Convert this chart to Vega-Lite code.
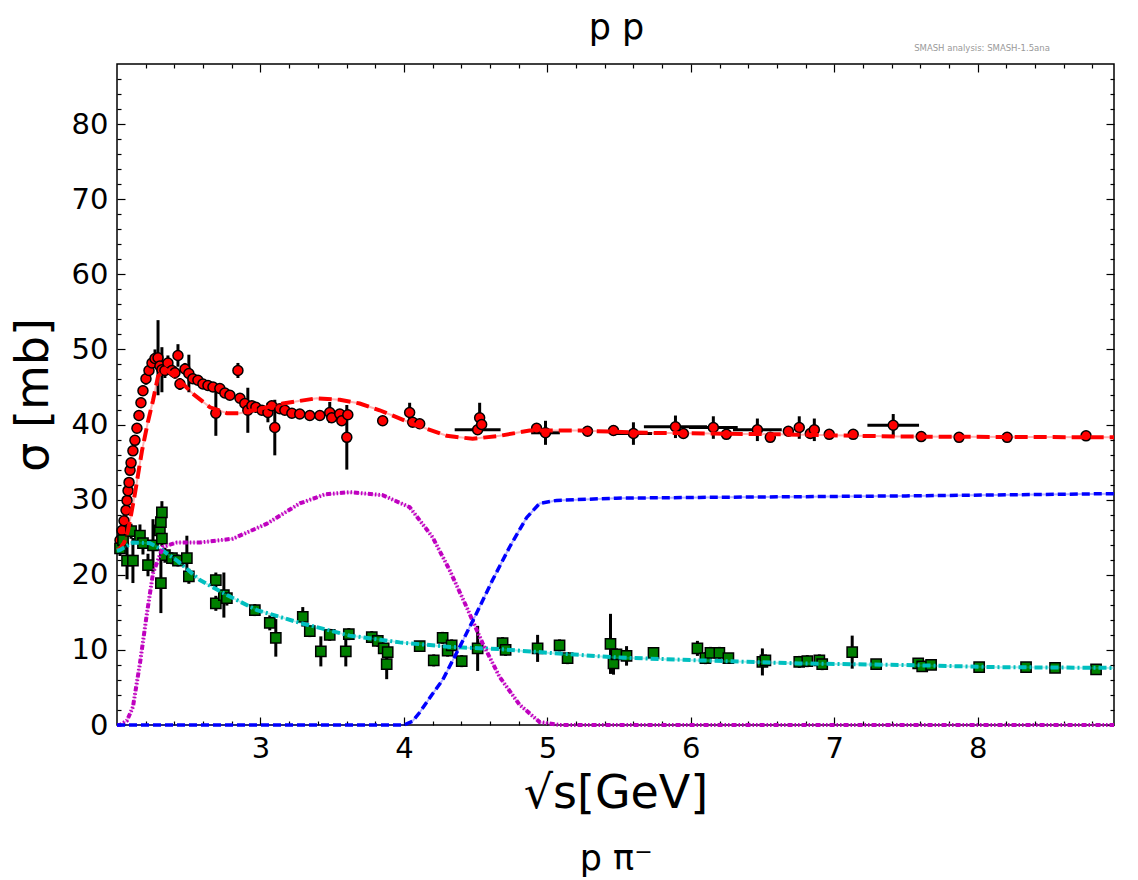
{
  "$schema": "https://vega.github.io/schema/vega-lite/v6.json",
  "width": 997,
  "height": 661,
  "autosize": {"type": "none"},
  "padding": {"left": 117, "top": 64, "right": 24, "bottom": 155},
  "background": "white",
  "config": {"view": {"stroke": "black", "strokeWidth": 1.5}, "font": "DejaVu Sans", "axis": {"domain": false, "grid": false, "tickColor": "black", "tickWidth": 1.2, "labelColor": "black", "titleColor": "black"}},
  "resolve": {"axis": {"x": "independent", "y": "independent"}},
  "datasets": {
    "red": [
      {"x": 2.021, "y": 24.6, "ey": 0.6, "ex": 0}, {"x": 2.035, "y": 25.9, "ey": 0.6, "ex": 0}, {"x": 2.049, "y": 27.2, "ey": 0.6, "ex": 0},
      {"x": 2.063, "y": 28.6, "ey": 0.6, "ex": 0}, {"x": 2.07, "y": 29.9, "ey": 0.6, "ex": 0}, {"x": 2.077, "y": 31.2, "ey": 0.6, "ex": 0},
      {"x": 2.084, "y": 32.3, "ey": 0.6, "ex": 0}, {"x": 2.091, "y": 33.9, "ey": 0.6, "ex": 0}, {"x": 2.098, "y": 34.9, "ey": 0.6, "ex": 0},
      {"x": 2.111, "y": 36.5, "ey": 0.6, "ex": 0}, {"x": 2.125, "y": 37.9, "ey": 0.6, "ex": 0}, {"x": 2.139, "y": 39.5, "ey": 0.6, "ex": 0},
      {"x": 2.153, "y": 41.2, "ey": 0.6, "ex": 0}, {"x": 2.167, "y": 42.9, "ey": 0.7, "ex": 0}, {"x": 2.181, "y": 44.5, "ey": 0.7, "ex": 0},
      {"x": 2.202, "y": 46.1, "ey": 0.8, "ex": 0}, {"x": 2.223, "y": 47.2, "ey": 0.8, "ex": 0}, {"x": 2.244, "y": 48.2, "ey": 1.0, "ex": 0},
      {"x": 2.265, "y": 48.8, "ey": 1.2, "ex": 0}, {"x": 2.286, "y": 48.9, "ey": 5.0, "ex": 0}, {"x": 2.299, "y": 47.8, "ey": 1.0, "ex": 0},
      {"x": 2.313, "y": 47.3, "ey": 3.0, "ex": 0}, {"x": 2.334, "y": 47.2, "ey": 1.0, "ex": 0}, {"x": 2.355, "y": 48.2, "ey": 1.0, "ex": 0},
      {"x": 2.383, "y": 47.2, "ey": 0.8, "ex": 0}, {"x": 2.404, "y": 46.9, "ey": 0.8, "ex": 0}, {"x": 2.425, "y": 49.2, "ey": 1.5, "ex": 0},
      {"x": 2.439, "y": 45.4, "ey": 0.8, "ex": 0}, {"x": 2.474, "y": 47.4, "ey": 0.8, "ex": 0}, {"x": 2.501, "y": 46.8, "ey": 2.5, "ex": 0},
      {"x": 2.529, "y": 46.1, "ey": 0.6, "ex": 0}, {"x": 2.564, "y": 45.9, "ey": 0.6, "ex": 0}, {"x": 2.599, "y": 45.4, "ey": 0.6, "ex": 0},
      {"x": 2.634, "y": 45.2, "ey": 0.6, "ex": 0}, {"x": 2.669, "y": 45.0, "ey": 0.6, "ex": 0}, {"x": 2.689, "y": 41.5, "ey": 3.0, "ex": 0},
      {"x": 2.717, "y": 44.8, "ey": 0.6, "ex": 0}, {"x": 2.752, "y": 44.2, "ey": 0.6, "ex": 0}, {"x": 2.787, "y": 43.9, "ey": 0.6, "ex": 0},
      {"x": 2.843, "y": 47.2, "ey": 1.0, "ex": 0}, {"x": 2.857, "y": 43.5, "ey": 0.6, "ex": 0}, {"x": 2.891, "y": 42.8, "ey": 0.6, "ex": 0},
      {"x": 2.912, "y": 41.9, "ey": 3.0, "ex": 0}, {"x": 2.94, "y": 42.5, "ey": 0.6, "ex": 0}, {"x": 2.968, "y": 42.3, "ey": 0.6, "ex": 0},
      {"x": 3.01, "y": 41.9, "ey": 0.6, "ex": 0}, {"x": 3.052, "y": 41.6, "ey": 1.3, "ex": 0}, {"x": 3.079, "y": 42.5, "ey": 0.6, "ex": 0},
      {"x": 3.1, "y": 39.6, "ey": 3.7, "ex": 0}, {"x": 3.135, "y": 42.1, "ey": 0.6, "ex": 0}, {"x": 3.17, "y": 41.9, "ey": 0.6, "ex": 0},
      {"x": 3.219, "y": 41.5, "ey": 0.6, "ex": 0}, {"x": 3.274, "y": 41.4, "ey": 0.6, "ex": 0}, {"x": 3.344, "y": 41.2, "ey": 0.6, "ex": 0},
      {"x": 3.414, "y": 41.2, "ey": 0.6, "ex": 0}, {"x": 3.483, "y": 41.6, "ey": 1.4, "ex": 0}, {"x": 3.497, "y": 40.9, "ey": 0.6, "ex": 0},
      {"x": 3.553, "y": 41.4, "ey": 0.6, "ex": 0}, {"x": 3.567, "y": 40.5, "ey": 0.6, "ex": 0}, {"x": 3.602, "y": 38.3, "ey": 4.3, "ex": 0},
      {"x": 3.609, "y": 41.3, "ey": 0.6, "ex": 0}, {"x": 3.852, "y": 40.5, "ey": 0.5, "ex": 0}, {"x": 4.04, "y": 41.6, "ey": 1.3, "ex": 0},
      {"x": 4.061, "y": 40.3, "ey": 0.6, "ex": 0}, {"x": 4.11, "y": 40.1, "ey": 0.6, "ex": 0}, {"x": 4.514, "y": 39.3, "ey": 0.6, "ex": 0.16},
      {"x": 4.528, "y": 40.9, "ey": 2.0, "ex": 0}, {"x": 4.542, "y": 40.0, "ey": 0.6, "ex": 0}, {"x": 4.925, "y": 39.5, "ey": 0.6, "ex": 0},
      {"x": 4.987, "y": 38.9, "ey": 1.6, "ex": 0.1}, {"x": 5.28, "y": 39.1, "ey": 0.5, "ex": 0}, {"x": 5.461, "y": 39.2, "ey": 0.5, "ex": 0},
      {"x": 5.6, "y": 38.8, "ey": 1.5, "ex": 0.13}, {"x": 5.893, "y": 39.7, "ey": 1.5, "ex": 0.22}, {"x": 5.948, "y": 38.8, "ey": 0.6, "ex": 0},
      {"x": 6.157, "y": 39.6, "ey": 1.5, "ex": 0.17}, {"x": 6.248, "y": 38.7, "ey": 0.6, "ex": 0}, {"x": 6.464, "y": 39.3, "ey": 1.5, "ex": 0.17},
      {"x": 6.554, "y": 38.3, "ey": 0.6, "ex": 0}, {"x": 6.68, "y": 39.1, "ey": 0.6, "ex": 0}, {"x": 6.756, "y": 39.6, "ey": 1.5, "ex": 0},
      {"x": 6.833, "y": 38.8, "ey": 0.6, "ex": 0}, {"x": 6.861, "y": 39.3, "ey": 1.5, "ex": 0}, {"x": 6.965, "y": 38.7, "ey": 0.5, "ex": 0},
      {"x": 7.132, "y": 38.7, "ey": 0.5, "ex": 0}, {"x": 7.411, "y": 39.9, "ey": 1.5, "ex": 0.18}, {"x": 7.606, "y": 38.4, "ey": 0.5, "ex": 0},
      {"x": 7.87, "y": 38.3, "ey": 0.5, "ex": 0}, {"x": 8.205, "y": 38.3, "ey": 0.5, "ex": 0}, {"x": 8.755, "y": 38.5, "ey": 0.5, "ex": 0}
    ],
    "green": [
      {"x": 2.021, "y": 23.5, "ey": 1.0}, {"x": 2.042, "y": 24.6, "ey": 1.0}, {"x": 2.07, "y": 21.9, "ey": 2.5},
      {"x": 2.098, "y": 25.8, "ey": 1.0}, {"x": 2.111, "y": 21.9, "ey": 3.0}, {"x": 2.16, "y": 25.2, "ey": 1.5},
      {"x": 2.181, "y": 24.2, "ey": 1.5}, {"x": 2.216, "y": 21.3, "ey": 1.5}, {"x": 2.251, "y": 23.9, "ey": 3.5},
      {"x": 2.299, "y": 25.9, "ey": 1.0}, {"x": 2.306, "y": 27.0, "ey": 1.0}, {"x": 2.313, "y": 28.3, "ey": 1.5},
      {"x": 2.313, "y": 24.8, "ey": 1.0}, {"x": 2.306, "y": 18.9, "ey": 4.0}, {"x": 2.334, "y": 22.6, "ey": 1.0},
      {"x": 2.383, "y": 22.2, "ey": 0.8}, {"x": 2.425, "y": 21.9, "ey": 0.8}, {"x": 2.487, "y": 22.2, "ey": 3.0},
      {"x": 2.501, "y": 19.8, "ey": 1.0}, {"x": 2.689, "y": 19.3, "ey": 1.0}, {"x": 2.689, "y": 16.2, "ey": 1.0},
      {"x": 2.745, "y": 17.3, "ey": 3.0}, {"x": 2.766, "y": 16.9, "ey": 1.0}, {"x": 2.961, "y": 15.3, "ey": 0.8},
      {"x": 3.065, "y": 13.6, "ey": 1.0}, {"x": 3.107, "y": 11.6, "ey": 2.5}, {"x": 3.295, "y": 14.4, "ey": 1.3},
      {"x": 3.344, "y": 12.5, "ey": 0.8}, {"x": 3.421, "y": 9.8, "ey": 2.0}, {"x": 3.483, "y": 12.0, "ey": 0.8},
      {"x": 3.595, "y": 9.8, "ey": 2.0}, {"x": 3.616, "y": 12.1, "ey": 0.8}, {"x": 3.776, "y": 11.7, "ey": 0.8},
      {"x": 3.818, "y": 11.2, "ey": 0.8}, {"x": 3.859, "y": 10.2, "ey": 0.8}, {"x": 3.88, "y": 8.1, "ey": 2.0},
      {"x": 3.887, "y": 9.7, "ey": 0.8}, {"x": 4.11, "y": 10.5, "ey": 0.5}, {"x": 4.208, "y": 8.6, "ey": 0.8},
      {"x": 4.27, "y": 11.6, "ey": 0.8}, {"x": 4.305, "y": 9.9, "ey": 0.8}, {"x": 4.333, "y": 10.6, "ey": 0.8},
      {"x": 4.403, "y": 8.5, "ey": 0.8}, {"x": 4.514, "y": 10.2, "ey": 3.0}, {"x": 4.688, "y": 10.9, "ey": 0.8},
      {"x": 4.709, "y": 10.0, "ey": 0.8}, {"x": 4.932, "y": 10.2, "ey": 1.8}, {"x": 5.085, "y": 10.6, "ey": 0.8},
      {"x": 5.141, "y": 8.9, "ey": 0.8}, {"x": 5.44, "y": 10.8, "ey": 4.0}, {"x": 5.461, "y": 8.2, "ey": 1.5},
      {"x": 5.482, "y": 9.4, "ey": 0.8}, {"x": 5.552, "y": 9.2, "ey": 1.3}, {"x": 5.74, "y": 9.6, "ey": 0.6},
      {"x": 6.046, "y": 10.2, "ey": 1.0}, {"x": 6.102, "y": 8.9, "ey": 0.8}, {"x": 6.137, "y": 9.6, "ey": 0.8},
      {"x": 6.199, "y": 9.6, "ey": 0.8}, {"x": 6.262, "y": 8.9, "ey": 0.6}, {"x": 6.499, "y": 8.4, "ey": 1.8},
      {"x": 6.52, "y": 8.6, "ey": 0.8}, {"x": 6.756, "y": 8.4, "ey": 0.8}, {"x": 6.812, "y": 8.5, "ey": 0.8},
      {"x": 6.896, "y": 8.6, "ey": 0.8}, {"x": 6.916, "y": 8.1, "ey": 0.8}, {"x": 7.125, "y": 9.7, "ey": 2.2},
      {"x": 7.292, "y": 8.1, "ey": 0.5}, {"x": 7.585, "y": 8.2, "ey": 0.5}, {"x": 7.613, "y": 7.8, "ey": 0.5},
      {"x": 7.675, "y": 8.0, "ey": 0.5}, {"x": 8.01, "y": 7.7, "ey": 0.5}, {"x": 8.337, "y": 7.7, "ey": 0.5},
      {"x": 8.539, "y": 7.6, "ey": 0.5}, {"x": 8.825, "y": 7.4, "ey": 0.5}
    ],
    "models": [
      {"m": "tot", "x": 2.0, "y": 23.3}, {"m": "tot", "x": 2.021, "y": 23.5}, {"m": "tot", "x": 2.05, "y": 24.3},
      {"m": "tot", "x": 2.077, "y": 25.9}, {"m": "tot", "x": 2.1, "y": 28.2}, {"m": "tot", "x": 2.125, "y": 30.8},
      {"m": "tot", "x": 2.174, "y": 36.5}, {"m": "tot", "x": 2.215, "y": 40.3}, {"m": "tot", "x": 2.251, "y": 43.2},
      {"m": "tot", "x": 2.286, "y": 46.4}, {"m": "tot", "x": 2.334, "y": 47.4}, {"m": "tot", "x": 2.418, "y": 46.2},
      {"m": "tot", "x": 2.529, "y": 44.1}, {"m": "tot", "x": 2.648, "y": 42.3}, {"m": "tot", "x": 2.766, "y": 41.5},
      {"m": "tot", "x": 2.857, "y": 41.5}, {"m": "tot", "x": 2.996, "y": 42.1}, {"m": "tot", "x": 3.156, "y": 42.8},
      {"m": "tot", "x": 3.393, "y": 43.5}, {"m": "tot", "x": 3.553, "y": 43.3}, {"m": "tot", "x": 3.692, "y": 42.8},
      {"m": "tot", "x": 3.831, "y": 41.9}, {"m": "tot", "x": 4.061, "y": 40.1}, {"m": "tot", "x": 4.298, "y": 38.5},
      {"m": "tot", "x": 4.479, "y": 38.1}, {"m": "tot", "x": 4.667, "y": 38.5}, {"m": "tot", "x": 4.876, "y": 39.2},
      {"m": "tot", "x": 5.224, "y": 39.2}, {"m": "tot", "x": 5.691, "y": 38.9}, {"m": "tot", "x": 6.15, "y": 38.8},
      {"m": "tot", "x": 6.617, "y": 38.7}, {"m": "tot", "x": 7.453, "y": 38.4}, {"m": "tot", "x": 8.95, "y": 38.3},
      {"m": "el", "x": 2.0, "y": 23.2}, {"m": "el", "x": 2.021, "y": 23.3}, {"m": "el", "x": 2.111, "y": 24.3},
      {"m": "el", "x": 2.23, "y": 24.2}, {"m": "el", "x": 2.299, "y": 23.5}, {"m": "el", "x": 2.418, "y": 21.9},
      {"m": "el", "x": 2.578, "y": 19.3}, {"m": "el", "x": 2.766, "y": 17.3}, {"m": "el", "x": 2.975, "y": 15.3},
      {"m": "el", "x": 3.274, "y": 13.6}, {"m": "el", "x": 3.623, "y": 11.9}, {"m": "el", "x": 3.971, "y": 11.0},
      {"m": "el", "x": 4.319, "y": 10.4}, {"m": "el", "x": 4.667, "y": 10.1}, {"m": "el", "x": 5.015, "y": 9.6},
      {"m": "el", "x": 5.481, "y": 9.0}, {"m": "el", "x": 6.06, "y": 8.6}, {"m": "el", "x": 6.757, "y": 8.2},
      {"m": "el", "x": 7.453, "y": 8.0}, {"m": "el", "x": 8.15, "y": 7.7}, {"m": "el", "x": 8.95, "y": 7.6},
      {"m": "res", "x": 2.0, "y": 0}, {"m": "res", "x": 2.021, "y": 0}, {"m": "res", "x": 2.07, "y": 0.6},
      {"m": "res", "x": 2.111, "y": 2.4}, {"m": "res", "x": 2.16, "y": 8.2}, {"m": "res", "x": 2.209, "y": 14.9},
      {"m": "res", "x": 2.251, "y": 20.2}, {"m": "res", "x": 2.32, "y": 23.7}, {"m": "res", "x": 2.418, "y": 24.3},
      {"m": "res", "x": 2.578, "y": 24.3}, {"m": "res", "x": 2.808, "y": 24.8}, {"m": "res", "x": 3.045, "y": 26.8},
      {"m": "res", "x": 3.274, "y": 29.5}, {"m": "res", "x": 3.45, "y": 30.7}, {"m": "res", "x": 3.623, "y": 31.0},
      {"m": "res", "x": 3.852, "y": 30.6}, {"m": "res", "x": 4.04, "y": 29.0}, {"m": "res", "x": 4.2, "y": 25.0},
      {"m": "res", "x": 4.319, "y": 20.6}, {"m": "res", "x": 4.437, "y": 15.7}, {"m": "res", "x": 4.548, "y": 10.9},
      {"m": "res", "x": 4.667, "y": 6.4}, {"m": "res", "x": 4.806, "y": 2.7}, {"m": "res", "x": 4.946, "y": 0.4},
      {"m": "res", "x": 5.085, "y": 0}, {"m": "res", "x": 8.95, "y": 0},
      {"m": "str", "x": 2.0, "y": 0}, {"m": "str", "x": 4.0, "y": 0}, {"m": "str", "x": 4.06, "y": 0.5},
      {"m": "str", "x": 4.111, "y": 1.7}, {"m": "str", "x": 4.194, "y": 4.0}, {"m": "str", "x": 4.27, "y": 6.0},
      {"m": "str", "x": 4.389, "y": 10.4}, {"m": "str", "x": 4.507, "y": 14.9}, {"m": "str", "x": 4.618, "y": 19.3},
      {"m": "str", "x": 4.737, "y": 23.7}, {"m": "str", "x": 4.855, "y": 27.6}, {"m": "str", "x": 4.946, "y": 29.5},
      {"m": "str", "x": 5.064, "y": 29.9}, {"m": "str", "x": 5.482, "y": 30.2}, {"m": "str", "x": 6.06, "y": 30.3},
      {"m": "str", "x": 7.5, "y": 30.5}, {"m": "str", "x": 8.95, "y": 30.8}
    ],
    "notes": [
      {"k": "w", "x": 8.03, "y": 90.1, "t": "SMASH analysis: SMASH-1.5ana"},
      {"k": "big", "x": 5.482, "y": 91.3, "t": "p p"},
      {"k": "big", "x": 5.48, "y": -19.3, "t": "p π⁻"},
      {"k": "w", "x": 8.03, "y": -21.4, "t": "SMASH analysis: SMASH-1.5ana"}
    ]
  },
  "layer": [
    {
      "data": {"name": "red"},
      "transform": [{"filter": "datum.ey > 0"}],
      "mark": {"type": "errorbar", "ticks": false, "thickness": 3, "color": "black"},
      "encoding": {
        "x": {"field": "x", "type": "quantitative", "scale": {"domain": [2.0, 8.95], "nice": false, "zero": false}, "axis": null},
        "y": {"field": "y", "type": "quantitative", "scale": {"domain": [0, 88], "nice": false}, "axis": null},
        "yError": {"field": "ey"}
      }
    },
    {
      "data": {"name": "red"},
      "transform": [{"filter": "datum.ex > 0"}],
      "mark": {"type": "errorbar", "ticks": false, "thickness": 3, "color": "black"},
      "encoding": {
        "y": {"field": "y", "type": "quantitative", "scale": {"domain": [0, 88], "nice": false}, "axis": null},
        "x": {"field": "x", "type": "quantitative", "scale": {"domain": [2.0, 8.95], "nice": false, "zero": false}, "axis": null},
        "xError": {"field": "ex"}
      }
    },
    {
      "data": {"name": "green"},
      "mark": {"type": "errorbar", "ticks": false, "thickness": 3, "color": "black"},
      "encoding": {
        "x": {"field": "x", "type": "quantitative", "scale": {"domain": [2.0, 8.95], "nice": false, "zero": false}, "axis": null},
        "y": {"field": "y", "type": "quantitative", "scale": {"domain": [0, 88], "nice": false}, "axis": null},
        "yError": {"field": "ey"}
      }
    },
    {
      "data": {"name": "red"},
      "mark": {"type": "point", "shape": "circle", "filled": true, "fill": "#ff0000", "stroke": "black", "strokeWidth": 1.5, "size": 100, "opacity": 1},
      "encoding": {
        "x": {"field": "x", "type": "quantitative", "scale": {"domain": [2.0, 8.95], "nice": false, "zero": false}, "axis": null},
        "y": {"field": "y", "type": "quantitative", "scale": {"domain": [0, 88], "nice": false}, "axis": null}
      }
    },
    {
      "data": {"name": "green"},
      "mark": {"type": "point", "shape": "square", "filled": true, "fill": "#008000", "stroke": "black", "strokeWidth": 1.5, "size": 105, "opacity": 1},
      "encoding": {
        "x": {"field": "x", "type": "quantitative", "scale": {"domain": [2.0, 8.95], "nice": false, "zero": false}, "axis": null},
        "y": {"field": "y", "type": "quantitative", "scale": {"domain": [0, 88], "nice": false}, "axis": null}
      }
    },
    {
      "data": {"name": "models"},
      "mark": {"type": "line", "strokeWidth": 2, "opacity": 0.3},
      "encoding": {
        "x": {"field": "x", "type": "quantitative", "scale": {"domain": [2.0, 8.95], "nice": false, "zero": false},
          "axis": {"orient": "bottom", "values": [3, 4, 5, 6, 7, 8], "format": "d", "ticks": false,
            "labelFontSize": 29, "labelFont": "DejaVu Sans", "labelPadding": 9, "labelFlush": false,
            "title": "√s[GeV]", "titleFontSize": 46, "titleFont": "DejaVu Sans", "titleFontWeight": "normal", "titlePadding": 8}},
        "y": {"field": "y", "type": "quantitative", "scale": {"domain": [0, 88], "nice": false},
          "axis": {"orient": "left", "values": [0, 10, 20, 30, 40, 50, 60, 70, 80], "format": "d", "ticks": false,
            "labelFontSize": 29, "labelFont": "DejaVu Sans", "labelPadding": 9, "labelFlush": false,
            "title": "σ [mb]", "titleFontSize": 46, "titleFont": "DejaVu Sans", "titleFontWeight": "normal", "titlePadding": 14}},
        "color": {"field": "m", "type": "nominal", "scale": {"domain": ["tot", "el", "res", "str"], "range": ["#ff0000", "#00bfbf", "#bf00bf", "#0000ff"]}, "legend": null}
      }
    },
    {
      "data": {"name": "models"},
      "transform": [{"filter": "datum.m === 'tot'"}],
      "mark": {"type": "line", "color": "#ff0000", "strokeWidth": 4, "strokeDash": [13, 6]},
      "encoding": {
        "x": {"field": "x", "type": "quantitative", "scale": {"domain": [2.0, 8.95], "nice": false, "zero": false},
          "axis": {"orient": "bottom", "values": [3, 4, 5, 6, 7, 8], "labels": false, "title": null, "tickSize": -8}},
        "y": {"field": "y", "type": "quantitative", "scale": {"domain": [0, 88], "nice": false},
          "axis": {"orient": "left", "values": [0, 10, 20, 30, 40, 50, 60, 70, 80], "labels": false, "title": null, "tickSize": -8}}
      }
    },
    {
      "data": {"name": "models"},
      "transform": [{"filter": "datum.m === 'el'"}],
      "mark": {"type": "line", "color": "#00bfbf", "strokeWidth": 4, "strokeDash": [8, 3, 2, 3]},
      "encoding": {
        "x": {"field": "x", "type": "quantitative", "scale": {"domain": [2.0, 8.95], "nice": false, "zero": false},
          "axis": {"orient": "bottom", "values": [2.2, 2.4, 2.6, 2.8, 3.2, 3.4, 3.6, 3.8, 4.2, 4.4, 4.6, 4.8, 5.2, 5.4, 5.6, 5.8, 6.2, 6.4, 6.6, 6.8, 7.2, 7.4, 7.6, 7.8, 8.2, 8.4, 8.6, 8.8], "labels": false, "title": null, "tickSize": -4}},
        "y": {"field": "y", "type": "quantitative", "scale": {"domain": [0, 88], "nice": false},
          "axis": {"orient": "left", "values": [2, 4, 6, 8, 12, 14, 16, 18, 22, 24, 26, 28, 32, 34, 36, 38, 42, 44, 46, 48, 52, 54, 56, 58, 62, 64, 66, 68, 72, 74, 76, 78, 82, 84, 86], "labels": false, "title": null, "tickSize": -4}}
      }
    },
    {
      "data": {"name": "models"},
      "transform": [{"filter": "datum.m === 'res'"}],
      "mark": {"type": "line", "color": "#bf00bf", "strokeWidth": 4, "strokeDash": [5, 2, 1.5, 2, 1.5, 2]},
      "encoding": {
        "x": {"field": "x", "type": "quantitative", "scale": {"domain": [2.0, 8.95], "nice": false, "zero": false},
          "axis": {"orient": "top", "values": [3, 4, 5, 6, 7, 8], "labels": false, "title": null, "tickSize": -8}},
        "y": {"field": "y", "type": "quantitative", "scale": {"domain": [0, 88], "nice": false},
          "axis": {"orient": "right", "values": [0, 10, 20, 30, 40, 50, 60, 70, 80], "labels": false, "title": null, "tickSize": -8}}
      }
    },
    {
      "data": {"name": "models"},
      "transform": [{"filter": "datum.m === 'str'"}],
      "mark": {"type": "line", "color": "#0000ff", "strokeWidth": 3.5, "strokeDash": [8, 4]},
      "encoding": {
        "x": {"field": "x", "type": "quantitative", "scale": {"domain": [2.0, 8.95], "nice": false, "zero": false},
          "axis": {"orient": "top", "values": [2.2, 2.4, 2.6, 2.8, 3.2, 3.4, 3.6, 3.8, 4.2, 4.4, 4.6, 4.8, 5.2, 5.4, 5.6, 5.8, 6.2, 6.4, 6.6, 6.8, 7.2, 7.4, 7.6, 7.8, 8.2, 8.4, 8.6, 8.8], "labels": false, "title": null, "tickSize": -4}},
        "y": {"field": "y", "type": "quantitative", "scale": {"domain": [0, 88], "nice": false},
          "axis": {"orient": "right", "values": [2, 4, 6, 8, 12, 14, 16, 18, 22, 24, 26, 28, 32, 34, 36, 38, 42, 44, 46, 48, 52, 54, 56, 58, 62, 64, 66, 68, 72, 74, 76, 78, 82, 84, 86], "labels": false, "title": null, "tickSize": -4}}
      }
    },
    {
      "data": {"name": "notes"},
      "transform": [{"filter": "datum.k === 'w'"}],
      "mark": {"type": "text", "fontSize": 8.5, "font": "DejaVu Sans", "color": "#999999", "align": "center", "baseline": "middle"},
      "encoding": {
        "x": {"field": "x", "type": "quantitative", "scale": {"domain": [2.0, 8.95], "nice": false, "zero": false}, "axis": null},
        "y": {"field": "y", "type": "quantitative", "scale": {"domain": [0, 88], "nice": false}, "axis": null},
        "text": {"field": "t"}
      }
    },
    {
      "data": {"name": "notes"},
      "transform": [{"filter": "datum.k === 'big'"}],
      "mark": {"type": "text", "fontSize": 35, "font": "DejaVu Sans", "color": "black", "align": "center", "baseline": "alphabetic"},
      "encoding": {
        "x": {"field": "x", "type": "quantitative", "scale": {"domain": [2.0, 8.95], "nice": false, "zero": false}, "axis": null},
        "y": {"field": "y", "type": "quantitative", "scale": {"domain": [0, 88], "nice": false}, "axis": null},
        "text": {"field": "t"}
      }
    }
  ]
}
